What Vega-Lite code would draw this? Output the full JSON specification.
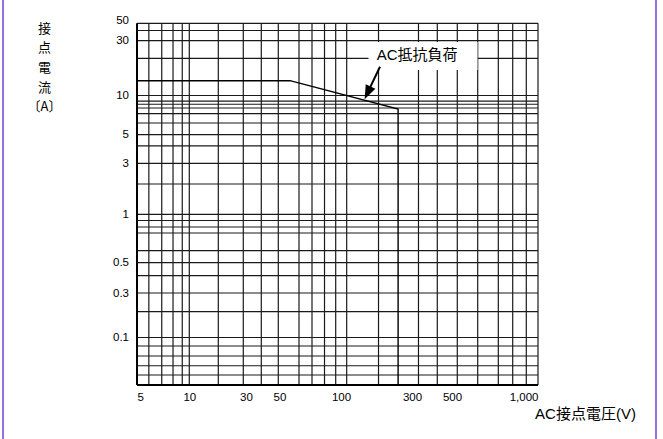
{
  "$schema": "https://vega.github.io/schema/vega-lite/v6.json",
  "width": 401,
  "height": 365,
  "autosize": "none",
  "padding": {"left": 137, "top": 20, "right": 125, "bottom": 54},
  "background": "white",
  "config": {"view": {"stroke": null}, "font": "Liberation Sans, Noto Sans CJK JP"},
  "datasets": {
    "vgrid": [
      {"v": 5.85}, {"v": 6.94}, {"v": 8.06}, {"v": 9.11}, {"v": 10},
      {"v": 17.54}, {"v": 28.46}, {"v": 37.88}, {"v": 49.09},
      {"v": 62.29}, {"v": 72.12}, {"v": 83.04}, {"v": 94.2},
      {"v": 109.2}, {"v": 178.7}, {"v": 325.9}, {"v": 414.4},
      {"v": 521.8}, {"v": 615.1}, {"v": 726.2}, {"v": 815.6}, {"v": 910}, {"v": 1000}
    ],
    "hgrid": [
      {"v": 46.09}, {"v": 38.59}, {"v": 30}, {"v": 21.08}, {"v": 10},
      {"v": 9.04}, {"v": 8.57}, {"v": 8.02}, {"v": 7.25}, {"v": 6.15},
      {"v": 5}, {"v": 4.09}, {"v": 3}, {"v": 1.92}, {"v": 1},
      {"v": 0.915}, {"v": 0.834}, {"v": 0.765}, {"v": 0.595}, {"v": 0.5},
      {"v": 0.4016}, {"v": 0.3}, {"v": 0.1891}, {"v": 0.1},
      {"v": 0.0849}, {"v": 0.07}, {"v": 0.058}, {"v": 0.0485}
    ],
    "frameThick": [
      {"x": 5, "y": 46.09, "x2": 5, "y2": 0.04},
      {"x": 5, "y": 0.04, "x2": 1000, "y2": 0.04}
    ],
    "border": [
      {"x": 0.847, "y": 81.9, "x2": 0.847, "y2": 0.0141},
      {"x": 2588, "y": 81.9, "x2": 2588, "y2": 0.0141}
    ],
    "curve": [
      {"i": 0, "voltage": 5, "current": 13.46},
      {"i": 1, "voltage": 56.3, "current": 13.46},
      {"i": 2, "voltage": 242, "current": 7.87},
      {"i": 3, "voltage": 242, "current": 0.04}
    ],
    "box": [{"x": 153.0, "x2": 614.1, "y": 29.23, "y2": 16.67}],
    "label": [{"x": 320.6, "y": 22.52, "text": "AC抵抗負荷"}],
    "arrow": [{"x": 182.8, "y": 17.81, "x2": 151.5, "y2": 10.7}],
    "head": [{"x": 150.9, "y": 10.54}]
  },
  "layer": [
    {
      "data": {"name": "vgrid"},
      "mark": {"type": "rule", "color": "#1a1a1a", "strokeWidth": 1.2},
      "encoding": {
        "x": {
          "field": "v", "type": "quantitative",
          "scale": {"type": "log", "domain": [5, 10, 30, 50, 100, 300, 500, 1000], "range": [0, 52.3, 109, 142.5, 204, 275, 315, 401], "nice": false},
          "axis": {
            "values": [5, 10, 30, 50, 100, 300, 500, 1000], "format": ",~g",
            "ticks": false, "tickSize": 0, "domain": false, "grid": false,
            "labelFlush": true, "labelOverlap": false, "labelBound": false,
            "labelFontSize": 11.5, "labelColor": "#000", "labelPadding": 6, "labelFont": "Liberation Sans",
            "title": "AC接点電圧(V)", "titleFont": "Liberation Sans, Noto Sans CJK JP", "titleFontSize": 15,
            "titleFontWeight": "normal", "titleColor": "#000", "titleX": 448, "titleY": 28,
            "titleAlign": "center", "titleBaseline": "middle", "titleAngle": 0
          }
        },
        "y": {"datum": 46.09, "type": "quantitative",
          "scale": {"type": "log", "domain": [0.04, 0.1, 0.3, 0.5, 1, 3, 5, 10, 30, 50], "range": [365, 317.5, 273, 242.7, 194.3, 143.3, 114.7, 75.5, 20.7, 0], "nice": false},
          "axis": {
            "values": [50, 30, 10, 5, 3, 1, 0.5, 0.3, 0.1], "format": "~g",
            "ticks": false, "tickSize": 0, "domain": false, "grid": false,
            "labelFlush": false, "labelOverlap": false, "labelBound": false,
            "labelFontSize": 11.5, "labelColor": "#000", "labelPadding": 8.5, "labelFont": "Liberation Sans",
            "title": ["接", "点", "電", "流", "〔A〕"], "titleFont": "Noto Sans CJK JP", "titleFontSize": 13,
            "titleFontWeight": "normal", "titleColor": "#000", "titleAngle": 0, "titleX": -93, "titleY": 8,
            "titleAlign": "center", "titleBaseline": "middle", "titleLineHeight": 19.7
          }
        },
        "y2": {"datum": 0.04}
      }
    },
    {
      "data": {"name": "hgrid"},
      "mark": {"type": "rule", "color": "#1a1a1a", "strokeWidth": 1.2},
      "encoding": {
        "y": {"field": "v", "type": "quantitative"},
        "x": {"datum": 5, "type": "quantitative"},
        "x2": {"datum": 1000}
      }
    },
    {
      "data": {"name": "frameThick"},
      "mark": {"type": "rule", "color": "#000", "strokeWidth": 2},
      "encoding": {
        "x": {"field": "x", "type": "quantitative"},
        "y": {"field": "y", "type": "quantitative"},
        "x2": {"field": "x2"},
        "y2": {"field": "y2"}
      }
    },
    {
      "data": {"name": "border"},
      "mark": {"type": "rule", "color": "#9370DB", "strokeWidth": 2, "clip": false},
      "encoding": {
        "x": {"field": "x", "type": "quantitative"},
        "y": {"field": "y", "type": "quantitative"},
        "x2": {"field": "x2"},
        "y2": {"field": "y2"}
      }
    },
    {
      "data": {"name": "box"},
      "mark": {"type": "rect", "fill": "white"},
      "encoding": {
        "x": {"field": "x", "type": "quantitative"},
        "x2": {"field": "x2"},
        "y": {"field": "y", "type": "quantitative"},
        "y2": {"field": "y2"}
      }
    },
    {
      "data": {"name": "curve"},
      "mark": {"type": "line", "color": "#000", "strokeWidth": 1.4},
      "encoding": {
        "x": {"field": "voltage", "type": "quantitative"},
        "y": {"field": "current", "type": "quantitative"},
        "order": {"field": "i"}
      }
    },
    {
      "data": {"name": "arrow"},
      "mark": {"type": "rule", "color": "#000", "strokeWidth": 2},
      "encoding": {
        "x": {"field": "x", "type": "quantitative"},
        "y": {"field": "y", "type": "quantitative"},
        "x2": {"field": "x2"},
        "y2": {"field": "y2"}
      }
    },
    {
      "data": {"name": "head"},
      "mark": {"type": "point", "shape": "M-0.75,-1L0.75,-1L0,1Z", "filled": true, "color": "#000", "opacity": 1, "size": 200, "angle": 25},
      "encoding": {
        "x": {"field": "x", "type": "quantitative"},
        "y": {"field": "y", "type": "quantitative"}
      }
    },
    {
      "data": {"name": "label"},
      "mark": {"type": "text", "font": "Liberation Sans, Noto Sans CJK JP", "fontSize": 15, "color": "#000", "align": "center", "baseline": "middle"},
      "encoding": {
        "x": {"field": "x", "type": "quantitative"},
        "y": {"field": "y", "type": "quantitative"},
        "text": {"field": "text"}
      }
    }
  ]
}
